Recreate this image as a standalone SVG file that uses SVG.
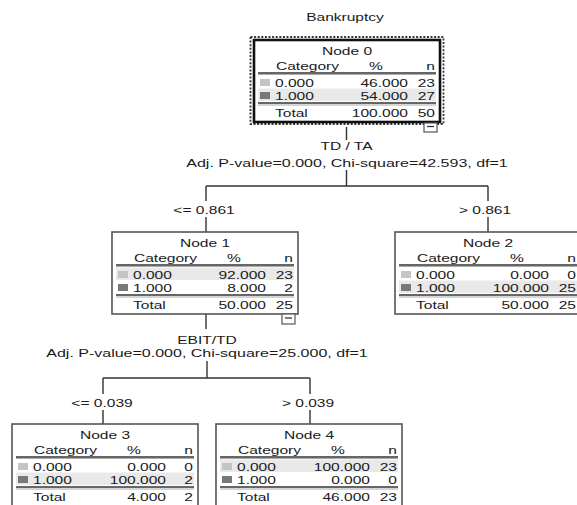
<svg xmlns="http://www.w3.org/2000/svg" width="577" height="505" viewBox="0 0 577 505">
<style>
.t{font-family:"Liberation Sans",Arial,sans-serif;font-size:11.6px;fill:#1a1a1a}
.m{text-anchor:middle}
.e{text-anchor:end}
.box{fill:#fff;stroke:#555;stroke-width:1.6}
.box0{fill:#fff;stroke:#111;stroke-width:2.6}
.dash{fill:none;stroke:#333;stroke-width:1.8;stroke-dasharray:2 1.6}
.hl{fill:#e9e9e9}
.s1{fill:#c4c4c4}
.s2{fill:#787878}
.ln{stroke:#333;stroke-width:1.3}
.lg{stroke:#aaa;stroke-width:1}
.con{fill:none;stroke:#333;stroke-width:1.4}
.ic{fill:#fff;stroke:#555;stroke-width:1.2}
</style>
<text class="t m" transform="translate(345 21) scale(1.34 1)">Bankruptcy</text>

<g id="connectors">
<path class="con" d="M346.5 127V140M346.5 170V186M206 186H488M206 186V201M206 217V232M488 186V201M488 217V232M206 314V329M207 361V378M103 378H310M103 378V394M103 410V424M310 378V394M310 410V424"/>
<text class="t m" transform="translate(346.5 150) scale(1.34 1)">TD / TA</text>
<text class="t m" transform="translate(347 166.5) scale(1.38 1)">Adj. P-value=0.000, Chi-square=42.593, df=1</text>
<text class="t m" transform="translate(204 213.5) scale(1.34 1)">&lt;= 0.861</text>
<text class="t m" transform="translate(485 213.5) scale(1.34 1)">&gt; 0.861</text>
<text class="t m" transform="translate(207 343.5) scale(1.34 1)">EBIT/TD</text>
<text class="t m" transform="translate(207 357) scale(1.38 1)">Adj. P-value=0.000, Chi-square=25.000, df=1</text>
<text class="t m" transform="translate(102 406.5) scale(1.34 1)">&lt;= 0.039</text>
<text class="t m" transform="translate(308 406.5) scale(1.34 1)">&gt; 0.039</text>
</g>

<g id="node0" transform="translate(254 40)">
<rect class="dash" x="-3.5" y="-3" width="193" height="87"/>
<rect class="box0" x="0" y="0" width="186" height="82"/>
<rect class="hl" x="4" y="48.5" width="178" height="12.5"/>
<text class="t m" transform="translate(93 14.5) scale(1.34 1)">Node 0</text>
<text class="t" transform="translate(22 30) scale(1.34 1)">Category</text>
<text class="t m" transform="translate(122 30) scale(1.34 1)">%</text>
<text class="t e" transform="translate(181 30) scale(1.34 1)">n</text>
<line class="ln" x1="4" y1="33" x2="182" y2="33"/><line class="lg" x1="4" y1="34.5" x2="182" y2="34.5"/>
<rect class="s1" x="6" y="39" width="10" height="7"/>
<text class="t" transform="translate(21 46.5) scale(1.34 1)">0.000</text>
<text class="t e" transform="translate(154 46.5) scale(1.34 1)">46.000</text>
<text class="t e" transform="translate(181 46.5) scale(1.34 1)">23</text>
<rect class="s2" x="6" y="52" width="10" height="7"/>
<text class="t" transform="translate(21 59.5) scale(1.34 1)">1.000</text>
<text class="t e" transform="translate(154 59.5) scale(1.34 1)">54.000</text>
<text class="t e" transform="translate(181 59.5) scale(1.34 1)">27</text>
<line class="ln" x1="4" y1="63" x2="182" y2="63"/><line class="lg" x1="4" y1="65" x2="182" y2="65"/>
<text class="t" transform="translate(21 77) scale(1.34 1)">Total</text>
<text class="t e" transform="translate(154 77) scale(1.34 1)">100.000</text>
<text class="t e" transform="translate(181 77) scale(1.34 1)">50</text>
<rect class="ic" x="170" y="83" width="13" height="9"/><line class="ln" x1="173" y1="86.5" x2="180" y2="86.5"/>
</g>

<g id="node1" transform="translate(112 232)">
<rect class="box" x="0" y="0" width="186" height="82"/>
<rect class="hl" x="4" y="35.5" width="178" height="12.5"/>
<text class="t m" transform="translate(93 14.5) scale(1.34 1)">Node 1</text>
<text class="t" transform="translate(22 30) scale(1.34 1)">Category</text>
<text class="t m" transform="translate(122 30) scale(1.34 1)">%</text>
<text class="t e" transform="translate(181 30) scale(1.34 1)">n</text>
<line class="ln" x1="4" y1="33" x2="182" y2="33"/><line class="lg" x1="4" y1="34.5" x2="182" y2="34.5"/>
<rect class="s1" x="6" y="39" width="10" height="7"/>
<text class="t" transform="translate(21 46.5) scale(1.34 1)">0.000</text>
<text class="t e" transform="translate(154 46.5) scale(1.34 1)">92.000</text>
<text class="t e" transform="translate(181 46.5) scale(1.34 1)">23</text>
<rect class="s2" x="6" y="52" width="10" height="7"/>
<text class="t" transform="translate(21 59.5) scale(1.34 1)">1.000</text>
<text class="t e" transform="translate(154 59.5) scale(1.34 1)">8.000</text>
<text class="t e" transform="translate(181 59.5) scale(1.34 1)">2</text>
<line class="ln" x1="4" y1="63" x2="182" y2="63"/><line class="lg" x1="4" y1="65" x2="182" y2="65"/>
<text class="t" transform="translate(21 77) scale(1.34 1)">Total</text>
<text class="t e" transform="translate(154 77) scale(1.34 1)">50.000</text>
<text class="t e" transform="translate(181 77) scale(1.34 1)">25</text>
<rect class="ic" x="170" y="82" width="13" height="10"/><line class="ln" x1="173" y1="86" x2="180" y2="86"/>
</g>

<g id="node2" transform="translate(395 232)">
<rect class="box" x="0" y="0" width="186" height="82"/>
<rect class="hl" x="4" y="48.5" width="178" height="12.5"/>
<text class="t m" transform="translate(93 14.5) scale(1.34 1)">Node 2</text>
<text class="t" transform="translate(22 30) scale(1.34 1)">Category</text>
<text class="t m" transform="translate(122 30) scale(1.34 1)">%</text>
<text class="t e" transform="translate(181 30) scale(1.34 1)">n</text>
<line class="ln" x1="4" y1="33" x2="182" y2="33"/><line class="lg" x1="4" y1="34.5" x2="182" y2="34.5"/>
<rect class="s1" x="6" y="39" width="10" height="7"/>
<text class="t" transform="translate(21 46.5) scale(1.34 1)">0.000</text>
<text class="t e" transform="translate(154 46.5) scale(1.34 1)">0.000</text>
<text class="t e" transform="translate(181 46.5) scale(1.34 1)">0</text>
<rect class="s2" x="6" y="52" width="10" height="7"/>
<text class="t" transform="translate(21 59.5) scale(1.34 1)">1.000</text>
<text class="t e" transform="translate(154 59.5) scale(1.34 1)">100.000</text>
<text class="t e" transform="translate(181 59.5) scale(1.34 1)">25</text>
<line class="ln" x1="4" y1="63" x2="182" y2="63"/><line class="lg" x1="4" y1="65" x2="182" y2="65"/>
<text class="t" transform="translate(21 77) scale(1.34 1)">Total</text>
<text class="t e" transform="translate(154 77) scale(1.34 1)">50.000</text>
<text class="t e" transform="translate(181 77) scale(1.34 1)">25</text>
</g>

<g id="node3" transform="translate(12 424)">
<rect class="box" x="0" y="0" width="186" height="84"/>
<rect class="hl" x="4" y="48.5" width="178" height="12.5"/>
<text class="t m" transform="translate(93 14.5) scale(1.34 1)">Node 3</text>
<text class="t" transform="translate(22 30) scale(1.34 1)">Category</text>
<text class="t m" transform="translate(122 30) scale(1.34 1)">%</text>
<text class="t e" transform="translate(181 30) scale(1.34 1)">n</text>
<line class="ln" x1="4" y1="33" x2="182" y2="33"/><line class="lg" x1="4" y1="34.5" x2="182" y2="34.5"/>
<rect class="s1" x="6" y="39" width="10" height="7"/>
<text class="t" transform="translate(21 46.5) scale(1.34 1)">0.000</text>
<text class="t e" transform="translate(154 46.5) scale(1.34 1)">0.000</text>
<text class="t e" transform="translate(181 46.5) scale(1.34 1)">0</text>
<rect class="s2" x="6" y="52" width="10" height="7"/>
<text class="t" transform="translate(21 59.5) scale(1.34 1)">1.000</text>
<text class="t e" transform="translate(154 59.5) scale(1.34 1)">100.000</text>
<text class="t e" transform="translate(181 59.5) scale(1.34 1)">2</text>
<line class="ln" x1="4" y1="63" x2="182" y2="63"/><line class="lg" x1="4" y1="65" x2="182" y2="65"/>
<text class="t" transform="translate(21 77) scale(1.34 1)">Total</text>
<text class="t e" transform="translate(154 77) scale(1.34 1)">4.000</text>
<text class="t e" transform="translate(181 77) scale(1.34 1)">2</text>
</g>

<g id="node4" transform="translate(216 424)">
<rect class="box" x="0" y="0" width="186" height="84"/>
<rect class="hl" x="4" y="35.5" width="178" height="12.5"/>
<text class="t m" transform="translate(93 14.5) scale(1.34 1)">Node 4</text>
<text class="t" transform="translate(22 30) scale(1.34 1)">Category</text>
<text class="t m" transform="translate(122 30) scale(1.34 1)">%</text>
<text class="t e" transform="translate(181 30) scale(1.34 1)">n</text>
<line class="ln" x1="4" y1="33" x2="182" y2="33"/><line class="lg" x1="4" y1="34.5" x2="182" y2="34.5"/>
<rect class="s1" x="6" y="39" width="10" height="7"/>
<text class="t" transform="translate(21 46.5) scale(1.34 1)">0.000</text>
<text class="t e" transform="translate(154 46.5) scale(1.34 1)">100.000</text>
<text class="t e" transform="translate(181 46.5) scale(1.34 1)">23</text>
<rect class="s2" x="6" y="52" width="10" height="7"/>
<text class="t" transform="translate(21 59.5) scale(1.34 1)">1.000</text>
<text class="t e" transform="translate(154 59.5) scale(1.34 1)">0.000</text>
<text class="t e" transform="translate(181 59.5) scale(1.34 1)">0</text>
<line class="ln" x1="4" y1="63" x2="182" y2="63"/><line class="lg" x1="4" y1="65" x2="182" y2="65"/>
<text class="t" transform="translate(21 77) scale(1.34 1)">Total</text>
<text class="t e" transform="translate(154 77) scale(1.34 1)">46.000</text>
<text class="t e" transform="translate(181 77) scale(1.34 1)">23</text>
</g>
</svg>
